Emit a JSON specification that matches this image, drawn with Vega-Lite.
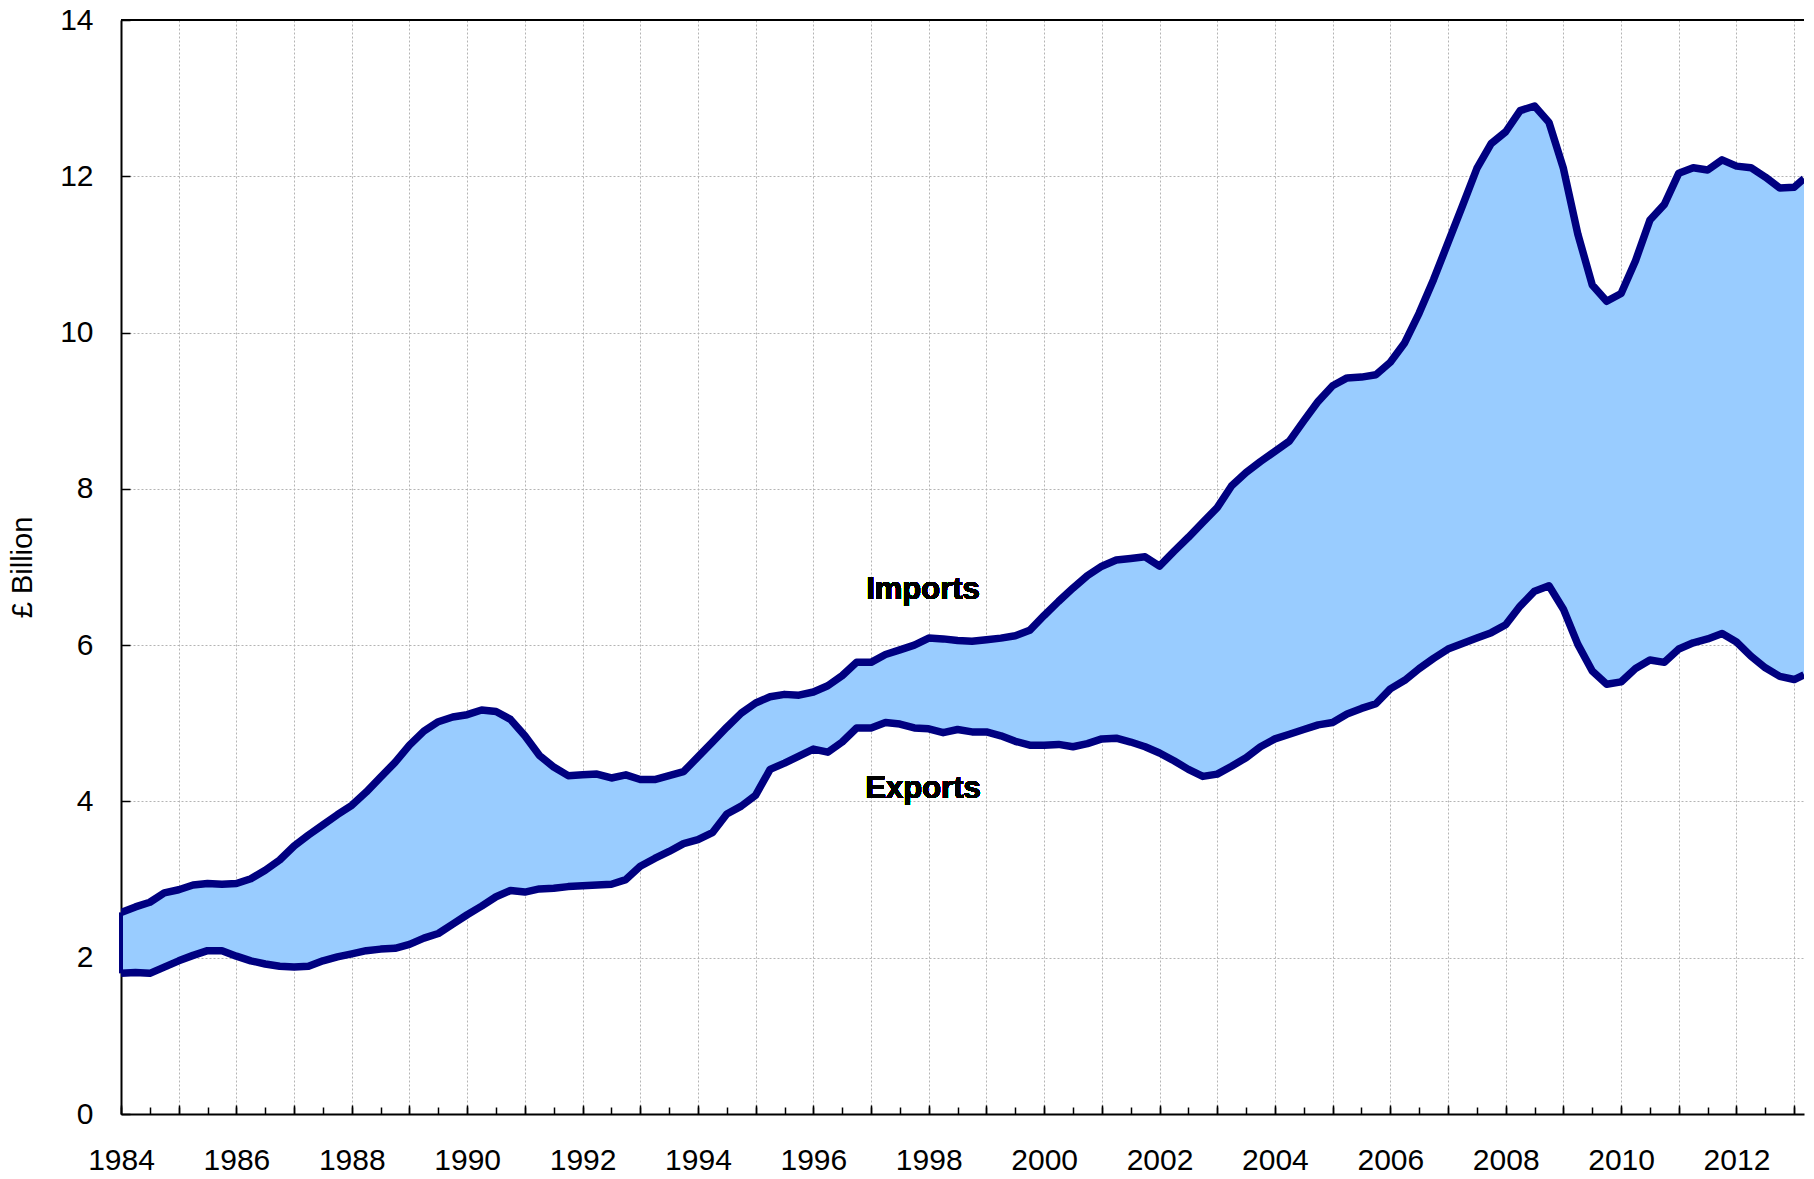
{
  "$schema": "https://vega.github.io/schema/vega-lite/v6.json",
  "width": 1683,
  "height": 1094,
  "autosize": {"type": "none"},
  "padding": {"left": 121, "top": 20, "right": 10, "bottom": 65},
  "background": "white",
  "config": {
    "view": {"stroke": null},
    "font": "Liberation Sans",
    "axis": {
      "labelFont": "Liberation Sans",
      "titleFont": "Liberation Sans",
      "labelColor": "black",
      "titleColor": "black",
      "domainColor": "black",
      "tickColor": "black"
    }
  },
  "resolve": {"axis": {"x": "independent"}},
  "data": {
    "values": [
      {"year": 1984.00, "imports": 2.58, "exports": 1.80},
      {"year": 1984.25, "imports": 2.65, "exports": 1.81},
      {"year": 1984.50, "imports": 2.71, "exports": 1.80},
      {"year": 1984.75, "imports": 2.83, "exports": 1.88},
      {"year": 1985.00, "imports": 2.87, "exports": 1.96},
      {"year": 1985.25, "imports": 2.93, "exports": 2.03},
      {"year": 1985.50, "imports": 2.95, "exports": 2.09},
      {"year": 1985.75, "imports": 2.94, "exports": 2.09},
      {"year": 1986.00, "imports": 2.95, "exports": 2.02},
      {"year": 1986.25, "imports": 3.01, "exports": 1.96},
      {"year": 1986.50, "imports": 3.12, "exports": 1.92},
      {"year": 1986.75, "imports": 3.25, "exports": 1.89},
      {"year": 1987.00, "imports": 3.43, "exports": 1.88},
      {"year": 1987.25, "imports": 3.57, "exports": 1.89},
      {"year": 1987.50, "imports": 3.70, "exports": 1.96},
      {"year": 1987.75, "imports": 3.83, "exports": 2.01},
      {"year": 1988.00, "imports": 3.95, "exports": 2.05},
      {"year": 1988.25, "imports": 4.12, "exports": 2.09},
      {"year": 1988.50, "imports": 4.31, "exports": 2.11},
      {"year": 1988.75, "imports": 4.50, "exports": 2.12},
      {"year": 1989.00, "imports": 4.72, "exports": 2.17},
      {"year": 1989.25, "imports": 4.90, "exports": 2.25},
      {"year": 1989.50, "imports": 5.02, "exports": 2.31},
      {"year": 1989.75, "imports": 5.08, "exports": 2.43},
      {"year": 1990.00, "imports": 5.11, "exports": 2.55},
      {"year": 1990.25, "imports": 5.17, "exports": 2.66},
      {"year": 1990.50, "imports": 5.15, "exports": 2.78},
      {"year": 1990.75, "imports": 5.05, "exports": 2.86},
      {"year": 1991.00, "imports": 4.84, "exports": 2.84},
      {"year": 1991.25, "imports": 4.59, "exports": 2.88},
      {"year": 1991.50, "imports": 4.44, "exports": 2.89},
      {"year": 1991.75, "imports": 4.33, "exports": 2.91},
      {"year": 1992.00, "imports": 4.34, "exports": 2.92},
      {"year": 1992.25, "imports": 4.35, "exports": 2.93},
      {"year": 1992.50, "imports": 4.30, "exports": 2.94},
      {"year": 1992.75, "imports": 4.34, "exports": 3.00},
      {"year": 1993.00, "imports": 4.28, "exports": 3.17},
      {"year": 1993.25, "imports": 4.28, "exports": 3.27},
      {"year": 1993.50, "imports": 4.33, "exports": 3.36},
      {"year": 1993.75, "imports": 4.38, "exports": 3.46},
      {"year": 1994.00, "imports": 4.57, "exports": 3.51},
      {"year": 1994.25, "imports": 4.76, "exports": 3.60},
      {"year": 1994.50, "imports": 4.95, "exports": 3.84},
      {"year": 1994.75, "imports": 5.13, "exports": 3.94},
      {"year": 1995.00, "imports": 5.26, "exports": 4.08},
      {"year": 1995.25, "imports": 5.34, "exports": 4.41},
      {"year": 1995.50, "imports": 5.37, "exports": 4.49},
      {"year": 1995.75, "imports": 5.36, "exports": 4.58},
      {"year": 1996.00, "imports": 5.40, "exports": 4.67},
      {"year": 1996.25, "imports": 5.48, "exports": 4.63},
      {"year": 1996.50, "imports": 5.61, "exports": 4.76},
      {"year": 1996.75, "imports": 5.78, "exports": 4.94},
      {"year": 1997.00, "imports": 5.78, "exports": 4.94},
      {"year": 1997.25, "imports": 5.88, "exports": 5.01},
      {"year": 1997.50, "imports": 5.94, "exports": 4.99},
      {"year": 1997.75, "imports": 6.00, "exports": 4.94},
      {"year": 1998.00, "imports": 6.09, "exports": 4.93},
      {"year": 1998.25, "imports": 6.08, "exports": 4.88},
      {"year": 1998.50, "imports": 6.06, "exports": 4.92},
      {"year": 1998.75, "imports": 6.05, "exports": 4.89},
      {"year": 1999.00, "imports": 6.07, "exports": 4.89},
      {"year": 1999.25, "imports": 6.09, "exports": 4.84},
      {"year": 1999.50, "imports": 6.12, "exports": 4.77},
      {"year": 1999.75, "imports": 6.19, "exports": 4.72},
      {"year": 2000.00, "imports": 6.38, "exports": 4.72},
      {"year": 2000.25, "imports": 6.56, "exports": 4.73},
      {"year": 2000.50, "imports": 6.73, "exports": 4.70},
      {"year": 2000.75, "imports": 6.89, "exports": 4.74},
      {"year": 2001.00, "imports": 7.01, "exports": 4.80},
      {"year": 2001.25, "imports": 7.09, "exports": 4.81},
      {"year": 2001.50, "imports": 7.11, "exports": 4.76},
      {"year": 2001.75, "imports": 7.13, "exports": 4.70},
      {"year": 2002.00, "imports": 7.01, "exports": 4.62},
      {"year": 2002.25, "imports": 7.20, "exports": 4.52},
      {"year": 2002.50, "imports": 7.38, "exports": 4.41},
      {"year": 2002.75, "imports": 7.57, "exports": 4.32},
      {"year": 2003.00, "imports": 7.76, "exports": 4.35},
      {"year": 2003.25, "imports": 8.04, "exports": 4.45},
      {"year": 2003.50, "imports": 8.21, "exports": 4.56},
      {"year": 2003.75, "imports": 8.35, "exports": 4.70},
      {"year": 2004.00, "imports": 8.48, "exports": 4.80},
      {"year": 2004.25, "imports": 8.61, "exports": 4.86},
      {"year": 2004.50, "imports": 8.87, "exports": 4.92},
      {"year": 2004.75, "imports": 9.12, "exports": 4.98},
      {"year": 2005.00, "imports": 9.32, "exports": 5.01},
      {"year": 2005.25, "imports": 9.42, "exports": 5.12},
      {"year": 2005.50, "imports": 9.43, "exports": 5.19},
      {"year": 2005.75, "imports": 9.46, "exports": 5.25},
      {"year": 2006.00, "imports": 9.62, "exports": 5.44},
      {"year": 2006.25, "imports": 9.87, "exports": 5.55},
      {"year": 2006.50, "imports": 10.25, "exports": 5.70},
      {"year": 2006.75, "imports": 10.68, "exports": 5.83},
      {"year": 2007.00, "imports": 11.15, "exports": 5.95},
      {"year": 2007.25, "imports": 11.62, "exports": 6.02},
      {"year": 2007.50, "imports": 12.10, "exports": 6.09},
      {"year": 2007.75, "imports": 12.42, "exports": 6.16},
      {"year": 2008.00, "imports": 12.57, "exports": 6.26},
      {"year": 2008.25, "imports": 12.84, "exports": 6.50},
      {"year": 2008.50, "imports": 12.90, "exports": 6.69},
      {"year": 2008.75, "imports": 12.69, "exports": 6.76},
      {"year": 2009.00, "imports": 12.10, "exports": 6.46},
      {"year": 2009.25, "imports": 11.26, "exports": 6.01},
      {"year": 2009.50, "imports": 10.61, "exports": 5.67},
      {"year": 2009.75, "imports": 10.40, "exports": 5.50},
      {"year": 2010.00, "imports": 10.50, "exports": 5.53},
      {"year": 2010.25, "imports": 10.92, "exports": 5.70},
      {"year": 2010.50, "imports": 11.44, "exports": 5.81},
      {"year": 2010.75, "imports": 11.64, "exports": 5.78},
      {"year": 2011.00, "imports": 12.04, "exports": 5.95},
      {"year": 2011.25, "imports": 12.11, "exports": 6.03},
      {"year": 2011.50, "imports": 12.08, "exports": 6.08},
      {"year": 2011.75, "imports": 12.21, "exports": 6.15},
      {"year": 2012.00, "imports": 12.13, "exports": 6.04},
      {"year": 2012.25, "imports": 12.11, "exports": 5.86},
      {"year": 2012.50, "imports": 11.99, "exports": 5.71},
      {"year": 2012.75, "imports": 11.85, "exports": 5.60},
      {"year": 2013.00, "imports": 11.86, "exports": 5.56},
      {"year": 2013.17, "imports": 11.97, "exports": 5.62}
    ]
  },
  "layer": [
    {
      "mark": {"type": "area", "color": "#99CCFF", "clip": true},
      "encoding": {
        "x": {
          "field": "year", "type": "quantitative",
          "scale": {"domain": [1984, 2013.17], "nice": false, "zero": false},
          "axis": {
            "orient": "bottom", "values": [1984,1985,1986,1987,1988,1989,1990,1991,1992,1993,1994,1995,1996,1997,1998,1999,2000,2001,2002,2003,2004,2005,2006,2007,2008,2009,2010,2011,2012,2013],
            "grid": true, "gridColor": "#b4b4b4", "gridDash": [2, 2], "gridWidth": 1,
            "labels": false, "ticks": true, "tickSize": -9, "tickWidth": 1.5,
            "domain": true, "domainWidth": 2, "title": null
          }
        },
        "y": {
          "field": "exports", "type": "quantitative",
          "scale": {"domain": [0, 14], "nice": false},
          "axis": {
            "values": [0, 2, 4, 6, 8, 10, 12, 14], "format": "d",
            "grid": true, "gridColor": "#b4b4b4", "gridDash": [2, 2], "gridWidth": 1,
            "tickSize": -9, "tickWidth": 1.5, "domainWidth": 2,
            "labelFontSize": 30, "labelPadding": 37, "labelFont": "Liberation Sans",
            "title": "£ Billion", "titleFontSize": 29, "titleFontWeight": "normal",
            "titlePadding": 22
          }
        },
        "y2": {"field": "imports"}
      }
    },
    {
      "mark": {"type": "rule", "color": "#000080", "strokeWidth": 4},
      "transform": [{"filter": "datum.year == 1984"}],
      "encoding": {
        "x": {"field": "year", "type": "quantitative", "axis": null},
        "y": {"field": "exports", "type": "quantitative"},
        "y2": {"field": "imports"}
      }
    },
    {
      "mark": {"type": "line", "color": "#000080", "strokeWidth": 7.5, "strokeJoin": "round", "clip": true},
      "encoding": {
        "x": {
          "field": "year", "type": "quantitative",
          "axis": {
            "orient": "bottom", "values": [1984,1984.5,1985,1985.5,1986,1986.5,1987,1987.5,1988,1988.5,1989,1989.5,1990,1990.5,1991,1991.5,1992,1992.5,1993,1993.5,1994,1994.5,1995,1995.5,1996,1996.5,1997,1997.5,1998,1998.5,1999,1999.5,2000,2000.5,2001,2001.5,2002,2002.5,2003,2003.5,2004,2004.5,2005,2005.5,2006,2006.5,2007,2007.5,2008,2008.5,2009,2009.5,2010,2010.5,2011,2011.5,2012,2012.5,2013],
            "grid": false, "labels": false, "ticks": true, "tickSize": -7, "tickWidth": 1.5,
            "domain": false, "title": null
          }
        },
        "y": {"field": "imports", "type": "quantitative"}
      }
    },
    {
      "mark": {"type": "line", "color": "#000080", "strokeWidth": 7.5, "strokeJoin": "round", "clip": true},
      "encoding": {
        "x": {
          "field": "year", "type": "quantitative",
          "axis": {
            "orient": "bottom", "values": [1984,1986,1988,1990,1992,1994,1996,1998,2000,2002,2004,2006,2008,2010,2012],
            "format": "d", "grid": false, "ticks": false, "domain": false,
            "labelFontSize": 30, "labelPadding": 31, "labelFont": "Liberation Sans", "labelFlush": false,
            "title": null
          }
        },
        "y": {"field": "exports", "type": "quantitative"}
      }
    },
    {
      "mark": {"type": "rule", "color": "black", "strokeWidth": 1.5},
      "encoding": {
        "x": {"datum": 1984, "axis": null},
        "x2": {"datum": 2013.17},
        "y": {"datum": 14}
      }
    },
    {
      "mark": {"type": "text", "font": "Liberation Sans", "fontWeight": "bold", "fontSize": 31, "color": "black", "align": "center", "baseline": "middle"},
      "encoding": {
        "x": {"datum": 1997.9, "axis": null},
        "y": {"datum": 6.71},
        "text": {"value": "Imports"}
      }
    },
    {
      "mark": {"type": "text", "font": "Liberation Sans", "fontWeight": "bold", "fontSize": 31, "color": "black", "align": "center", "baseline": "middle"},
      "encoding": {
        "x": {"datum": 1997.9, "axis": null},
        "y": {"datum": 4.16},
        "text": {"value": "Exports"}
      }
    }
  ]
}
